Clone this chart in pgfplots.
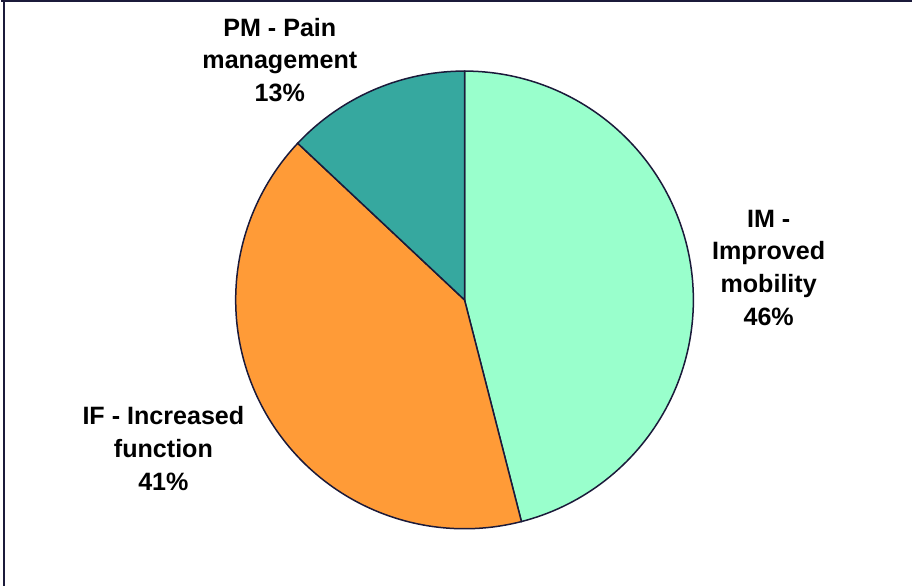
\documentclass[border=0pt]{standalone}
\usepackage{pgfplots}
\usepackage{pgfplotstable}
\pgfplotsset{compat=1.18}
\usepackage{fontspec}
\setmainfont{Liberation Sans}
\definecolor{imc}{HTML}{99FFCC}
\definecolor{ifc}{HTML}{FF9B37}
\definecolor{pmc}{HTML}{36A89F}
\definecolor{edge}{HTML}{1B1A3A}
\pgfplotstableread{
label value
IM 46
IF 41
PM 13
}\piedata
\begin{document}
\begin{tikzpicture}
\pgfplotstablegetelem{0}{value}\of\piedata \let\vIM\pgfplotsretval
\pgfplotstablegetelem{1}{value}\of\piedata \let\vIF\pgfplotsretval
\pgfplotstablegetelem{2}{value}\of\piedata \let\vPM\pgfplotsretval
\pgfmathsetmacro{\aA}{90}
\pgfmathsetmacro{\aB}{90-3.6*\vIM}
\pgfmathsetmacro{\aC}{\aB-3.6*\vIF}
\pgfmathsetmacro{\aD}{\aC-3.6*\vPM}
\begin{axis}[
  scale only axis, width=913bp, height=590bp,
  xmin=0, xmax=913, ymin=0, ymax=590,
  hide axis, clip=false,
]
\def\cx{467}\def\cy{285}\def\R{228}
\addplot[fill=imc, draw=edge, line width=1.5pt, domain=\aB:\aA, samples=120, variable=\t]
  ({\cx+\R*cos(\t)},{\cy+\R*sin(\t)}) -- (axis cs:\cx,\cy) -- cycle;
\addplot[fill=ifc, draw=edge, line width=1.5pt, domain=\aC:\aB, samples=120, variable=\t]
  ({\cx+\R*cos(\t)},{\cy+\R*sin(\t)}) -- (axis cs:\cx,\cy) -- cycle;
\addplot[fill=pmc, draw=edge, line width=1.5pt, domain=\aD:\aC, samples=60, variable=\t]
  ({\cx+\R*cos(\t)},{\cy+\R*sin(\t)}) -- (axis cs:\cx,\cy) -- cycle;
% frame
\draw[edge, line width=1.6pt] (axis cs:5,583) -- (axis cs:913,583);
\draw[edge, line width=1.6pt] (axis cs:8,583) -- (axis cs:8,0);
% labels
\tikzset{lbl/.style={font=\fontsize{25bp}{32.5bp}\selectfont\bfseries, align=center, text=black, inner sep=0pt}}
\node[lbl] at (axis cs:283,524) {PM - Pain\\management\\\vPM\%};
\node[lbl] at (axis cs:770,317) {IM -\\Improved\\mobility\\\vIM\%};
\node[lbl] at (axis cs:167,137) {IF - Increased\\function\\\vIF\%};
\end{axis}
\end{tikzpicture}
\end{document}
